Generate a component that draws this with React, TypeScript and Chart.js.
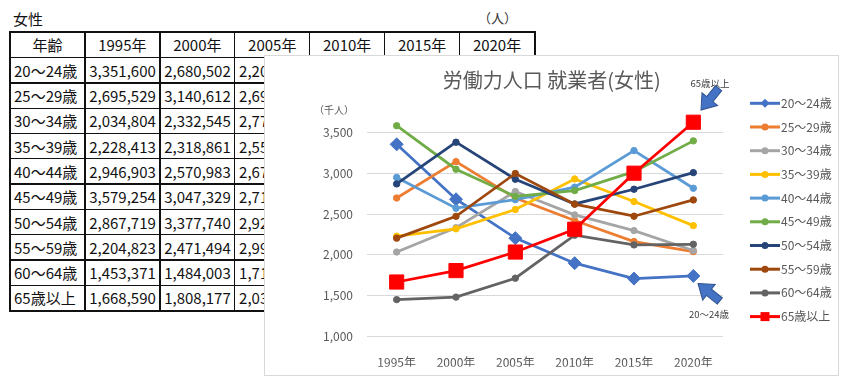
import React, { useEffect, useRef } from 'react';
import { Chart, registerables } from 'chart.js';

Chart.register(...registerables);

// ---------- data ----------
const years = ['1995年', '2000年', '2005年', '2010年', '2015年', '2020年'];
const ageGroups = ['20～24歳', '25～29歳', '30～34歳', '35～39歳', '40～44歳', '45～49歳', '50～54歳', '55～59歳', '60～64歳', '65歳以上'];

// persons
const age20_24 = [3351600, 2680502, 2205000, 1899000, 1710000, 1743000];
const age25_29 = [2695529, 3140612, 2695000, 2420000, 2163000, 2040000];
const age30_34 = [2034804, 2332545, 2775000, 2489000, 2297000, 2053000];
const age35_39 = [2228413, 2318861, 2555000, 2929000, 2652000, 2358000];
const age40_44 = [2946903, 2570983, 2675000, 2828000, 3275000, 2815000];
const age45_49 = [3579254, 3047329, 2715000, 2786000, 3018000, 3394000];
const age50_54 = [2867719, 3377740, 2925000, 2623000, 2803000, 3006000];
const age55_59 = [2204823, 2471494, 2995000, 2620000, 2473000, 2672000];
const age60_64 = [1453371, 1484003, 1715000, 2241000, 2122000, 2130000];
const age65plus = [1668590, 1808177, 2035000, 2314000, 2999000, 3622000];

const seriesValues = [age20_24, age25_29, age30_34, age35_39, age40_44, age45_49, age50_54, age55_59, age60_64, age65plus];
const seriesColors = ['#4472C4', '#ED7D31', '#A5A5A5', '#FFC000', '#5B9BD5', '#70AD47', '#264478', '#9E480E', '#636363', '#FF0000'];
const yMin = 1000;
const yMax = 4000;
const yStep = 500;

const chartTitle = '労働力人口 就業者(女性)';
const unitLabel = '（千人）';
const tableTitle = '女性';
const tableUnit = '（人）';
const tableHeadFirst = '年齢';
const note65 = '65歳以上';
const note20 = '20～24歳';

const FONT = '"Noto Sans CJK JP", "Noto Sans", sans-serif';
const TEXT = '#595959';

// ---------- table ----------
function DataTable() {
  const left = 10;
  const top = 32.3;
  const cw = 74.93;
  const rh = 25.3;
  const header = [tableHeadFirst, ...years];
  const rows = ageGroups.map((g, i) => [g, ...seriesValues[i].map((v) => v.toLocaleString('en-US'))]);
  const all = [header, ...rows];
  const nCols = header.length;
  const nRows = all.length;
  const cells: React.ReactNode[] = [];
  all.forEach((row, r) => {
    row.forEach((txt, c) => {
      const isHead = r === 0;
      const justify = isHead ? 'center' : c === 0 ? 'flex-start' : 'flex-end';
      cells.push(
        <div
          key={`c${r}-${c}`}
          style={{
            position: 'absolute',
            left: left + c * cw,
            top: top + r * rh,
            width: cw,
            height: rh,
            display: 'flex',
            alignItems: 'center',
            justifyContent: justify,
            padding: '0 4px 0 4px',
            boxSizing: 'border-box',
            fontSize: 15,
            lineHeight: 1,
            whiteSpace: 'nowrap',
            color: '#111',
            overflow: 'visible',
          }}
        >
          {txt}
        </div>
      );
    });
  });
  const lines: React.ReactNode[] = [];
  for (let c = 0; c <= nCols; c++) {
    const outer = c === 0 || c === nCols;
    const w = outer ? 2 : 1.3;
    lines.push(
      <div key={`v${c}`} style={{ position: 'absolute', left: left + c * cw - w / 2, top: top - 1, width: w, height: nRows * rh + 2, background: '#111' }} />
    );
  }
  for (let r = 0; r <= nRows; r++) {
    const outer = r === 0 || r === nRows;
    const h = outer ? 2 : 1.3;
    lines.push(
      <div key={`h${r}`} style={{ position: 'absolute', left: left - 1, top: top + r * rh - h / 2, width: nCols * cw + 2, height: h, background: '#111' }} />
    );
  }
  return (
    <>
      <div style={{ position: 'absolute', left: 13, top: 9, fontSize: 15, lineHeight: '20px', color: '#111' }}>{tableTitle}</div>
      <div style={{ position: 'absolute', left: 478, top: 8, fontSize: 13, lineHeight: '20px', color: '#333' }}>{tableUnit}</div>
      {cells}
      {lines}
    </>
  );
}

// ---------- chart ----------
const BOX_L = 264;
const BOX_T = 55;
const BOX_W = 575;
const BOX_H = 321;

function drawArrow(ctx: CanvasRenderingContext2D, tipX: number, tipY: number, angle: number) {
  const pts = [[-28, -4], [-14, -4], [-14, -10], [0, 0], [-14, 10], [-14, 4], [-28, 4]];
  ctx.save();
  ctx.translate(tipX, tipY);
  ctx.rotate(angle);
  ctx.beginPath();
  pts.forEach(([x, y], i) => (i === 0 ? ctx.moveTo(x, y) : ctx.lineTo(x, y)));
  ctx.closePath();
  ctx.fillStyle = '#4472C4';
  ctx.fill();
  ctx.strokeStyle = '#2F528F';
  ctx.lineWidth = 1;
  ctx.stroke();
  ctx.restore();
}

const decorPlugin = {
  id: 'decor',
  afterDraw(chart: any) {
    const ctx: CanvasRenderingContext2D = chart.ctx;
    ctx.save();
    // title
    ctx.fillStyle = TEXT;
    ctx.textBaseline = 'middle';
    ctx.textAlign = 'center';
    ctx.font = `20px ${FONT}`;
    ctx.fillText(chartTitle, 287.7, 25);
    // unit
    ctx.font = `10px ${FONT}`;
    ctx.fillText(unitLabel, 70, 55);
    // legend
    const lx0 = 486;
    const lx1 = 516;
    ageGroups.forEach((g, i) => {
      const y = 48.3 + i * 23.7;
      const col = seriesColors[i];
      ctx.strokeStyle = col;
      ctx.lineWidth = 3;
      ctx.beginPath();
      ctx.moveTo(lx0, y);
      ctx.lineTo(lx1, y);
      ctx.stroke();
      ctx.fillStyle = col;
      const mx = (lx0 + lx1) / 2;
      ctx.beginPath();
      if (i === 0) {
        const r = 4.5;
        ctx.moveTo(mx - r, y);
        ctx.lineTo(mx, y - r);
        ctx.lineTo(mx + r, y);
        ctx.lineTo(mx, y + r);
        ctx.closePath();
      } else if (i === ageGroups.length - 1) {
        ctx.rect(mx - 4.5, y - 4.5, 9, 9);
      } else {
        ctx.arc(mx, y, 3.5, 0, Math.PI * 2);
      }
      ctx.fill();
      ctx.fillStyle = TEXT;
      ctx.textAlign = 'left';
      ctx.font = `12px ${FONT}`;
      ctx.fillText(g, 517, y);
    });
    // annotations
    ctx.fillStyle = '#404040';
    ctx.textAlign = 'center';
    ctx.font = `9.5px ${FONT}`;
    ctx.fillText(note65, 446, 28);
    ctx.fillText(note20, 445, 259.5);
    drawArrow(ctx, 437, 55, Math.atan2(21, -17));
    drawArrow(ctx, 434, 228.5, Math.atan2(-0.8, -1));
    ctx.restore();
  },
};

function LineChart() {
  const ref = useRef<HTMLCanvasElement | null>(null);
  useEffect(() => {
    if (!ref.current) return;
    const n = seriesValues.length;
    const datasets = seriesValues.map((vals, i) => {
      const isFirst = i === 0;
      const isLast = i === n - 1;
      return {
        label: ageGroups[i],
        data: vals.map((v) => v / 1000),
        borderColor: seriesColors[i],
        backgroundColor: seriesColors[i],
        borderWidth: 2.75,
        pointStyle: isFirst ? 'rectRot' : isLast ? 'rect' : 'circle',
        pointRadius: isFirst ? 6.5 : isLast ? 10 : 3.2,
        pointBorderWidth: 1,
        pointBorderColor: seriesColors[i],
        pointBackgroundColor: seriesColors[i],
        tension: 0,
        order: n - i,
        clip: false as any,
      };
    });
    const chart = new Chart(ref.current, {
      type: 'line',
      data: { labels: years, datasets },
      options: {
        responsive: false,
        animation: false,
        devicePixelRatio: 1,
        layout: { padding: { left: 43, right: 116, top: 36.3, bottom: 9.3 } },
        plugins: { legend: { display: false }, title: { display: false }, tooltip: { enabled: false } },
        font: { family: FONT },
        scales: {
          x: {
            type: 'category',
            offset: true,
            grid: { display: false },
            border: { display: false },
            ticks: { color: TEXT, font: { size: 12, family: FONT }, padding: 11, maxRotation: 0, autoSkip: false },
            afterFit: (s: any) => {
              s.height = 30;
            },
          },
          y: {
            min: yMin,
            max: yMax,
            ticks: {
              stepSize: yStep,
              color: TEXT,
              font: { size: 12, family: FONT },
              padding: 14,
              callback: (v: any) => (Number(v) >= yMax ? '' : Number(v).toLocaleString('en-US')),
            },
            grid: {
              color: (c: any) => (c.tick && c.tick.value >= yMax ? 'rgba(0,0,0,0)' : '#D9D9D9'),
              lineWidth: 1,
              drawTicks: false,
            },
            border: { display: false },
            afterFit: (s: any) => {
              s.width = 60;
            },
          },
        },
      } as any,
      plugins: [decorPlugin],
    });
    return () => chart.destroy();
  }, []);
  return (
    <div style={{ position: 'absolute', left: BOX_L, top: BOX_T, width: BOX_W, height: BOX_H, background: '#fff' }}>
      <canvas ref={ref} width={BOX_W} height={BOX_H} style={{ position: 'absolute', left: 0, top: 0, width: BOX_W, height: BOX_H }} />
      <div style={{ position: 'absolute', left: 0, top: 0, width: BOX_W, height: BOX_H, boxSizing: 'border-box', border: '1px solid #D9D9D9', pointerEvents: 'none' }} />
    </div>
  );
}

export default function App() {
  return (
    <div style={{ position: 'absolute', left: 0, top: 0, width: 846, height: 381, background: '#fff', fontFamily: FONT, overflow: 'hidden' }}>
      <DataTable />
      <LineChart />
    </div>
  );
}
